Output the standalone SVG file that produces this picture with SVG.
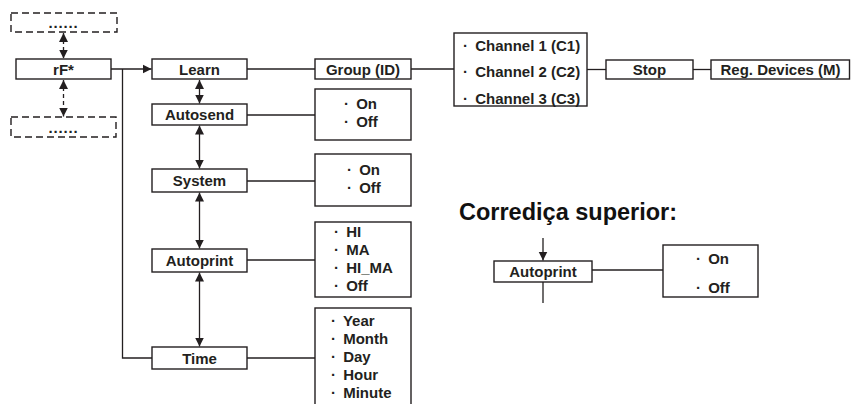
<svg xmlns="http://www.w3.org/2000/svg" width="851" height="404" viewBox="0 0 851 404">
<defs>
<style>
.box{fill:#fff;stroke:#231f20;stroke-width:1.4}
.dbox{fill:none;stroke:#231f20;stroke-width:1.4;stroke-dasharray:7 4}
.ln{fill:none;stroke:#231f20;stroke-width:1.3}
.dl{fill:none;stroke:#231f20;stroke-width:1.3;stroke-dasharray:4 3}
text{font-family:"Liberation Sans",Arial,Helvetica,sans-serif;font-weight:bold;font-size:15px;fill:#231f20}
.c{text-anchor:middle}
.title{font-size:23.5px;fill:#111}
</style>
<marker id="ah" viewBox="0 0 10 10" refX="10" refY="5" markerUnits="userSpaceOnUse" markerWidth="9" markerHeight="10" orient="auto-start-reverse">
<path d="M0,0 L10,5 L0,10 z" fill="#231f20"/>
</marker>
</defs>
<rect width="851" height="404" fill="#fff"/>

<g id="connectors">
<line class="dl" x1="63.5" y1="33" x2="63.5" y2="58.5" marker-start="url(#ah)" marker-end="url(#ah)"/>
<line class="dl" x1="63.5" y1="80" x2="63.5" y2="116.5" marker-start="url(#ah)" marker-end="url(#ah)"/>
<line class="ln" x1="111" y1="69" x2="151.5" y2="69" marker-end="url(#ah)"/>
<polyline class="ln" points="122.5,69 122.5,358 152,358"/>
<line class="ln" x1="247" y1="69" x2="315" y2="69"/>
<line class="ln" x1="411" y1="69" x2="454" y2="69"/>
<line class="ln" x1="587" y1="69.5" x2="606" y2="69.5"/>
<line class="ln" x1="693" y1="69.5" x2="711" y2="69.5"/>
<line class="ln" x1="199.5" y1="80" x2="199.5" y2="103.5" marker-start="url(#ah)" marker-end="url(#ah)"/>
<line class="ln" x1="247" y1="115" x2="315" y2="115"/>
<line class="ln" x1="199.5" y1="125.5" x2="199.5" y2="168.5" marker-start="url(#ah)" marker-end="url(#ah)"/>
<line class="ln" x1="247" y1="181" x2="315" y2="181"/>
<line class="ln" x1="199.5" y1="192.5" x2="199.5" y2="248.5" marker-start="url(#ah)" marker-end="url(#ah)"/>
<line class="ln" x1="247" y1="260" x2="315" y2="260"/>
<line class="ln" x1="199.5" y1="272.5" x2="199.5" y2="346.5" marker-start="url(#ah)" marker-end="url(#ah)"/>
<line class="ln" x1="247" y1="358" x2="315" y2="358"/>
<line class="ln" x1="543" y1="238" x2="543" y2="260.5" marker-end="url(#ah)"/>
<line class="ln" x1="543" y1="282" x2="543" y2="303"/>
<line class="ln" x1="592" y1="270" x2="663" y2="270"/>
</g>

<g id="top-dashed">
<rect class="dbox" x="11" y="13" width="106" height="19"/>
<text class="c" x="63.5" y="27.5" letter-spacing="0.8">......</text>
</g>
<g id="rF">
<rect class="box" x="16" y="59" width="95" height="20"/>
<text class="c" x="63.5" y="74.5">rF*</text>
</g>
<g id="bottom-dashed">
<rect class="dbox" x="11" y="117" width="105" height="20"/>
<text class="c" x="63.5" y="132.5" letter-spacing="0.8">......</text>
</g>

<g id="learn">
<rect class="box" x="152" y="59" width="95" height="20"/>
<text class="c" x="199.5" y="74.5">Learn</text>
</g>
<g id="group-id">
<rect class="box" x="315" y="59" width="96" height="20"/>
<text class="c" x="363" y="74.5">Group (ID)</text>
</g>
<g id="channels">
<rect class="box" x="454" y="33" width="133" height="73"/>
<text x="463" y="50.5">·<tspan dx="3"> Channel 1 (C1)</tspan></text>
<text x="463" y="76.5">·<tspan dx="3"> Channel 2 (C2)</tspan></text>
<text x="463" y="104">·<tspan dx="3"> Channel 3 (C3)</tspan></text>
</g>
<g id="stop">
<rect class="box" x="606" y="60" width="87" height="19"/>
<text class="c" x="649.5" y="75">Stop</text>
</g>
<g id="reg-devices">
<rect class="box" x="711" y="60" width="138.5" height="19"/>
<text class="c" x="780.5" y="75">Reg. Devices (M)</text>
</g>

<g id="autosend">
<rect class="box" x="152" y="104" width="95" height="21"/>
<text class="c" x="199.5" y="120">Autosend</text>
</g>
<g id="autosend-options">
<rect class="box" x="315" y="89" width="96" height="51"/>
<text x="344" y="108.5">·<tspan dx="3"> On</tspan></text>
<text x="344" y="126.5">·<tspan dx="3"> Off</tspan></text>
</g>

<g id="system">
<rect class="box" x="152" y="169" width="95" height="23"/>
<text class="c" x="199.5" y="186">System</text>
</g>
<g id="system-options">
<rect class="box" x="315" y="154" width="96" height="52"/>
<text x="347" y="174.5">·<tspan dx="3"> On</tspan></text>
<text x="347" y="192.5">·<tspan dx="3"> Off</tspan></text>
</g>

<g id="autoprint">
<rect class="box" x="152" y="249" width="95" height="23"/>
<text class="c" x="199.5" y="266">Autoprint</text>
</g>
<g id="autoprint-options">
<rect class="box" x="315" y="222" width="96" height="75"/>
<text x="334" y="236.5">·<tspan dx="3"> HI</tspan></text>
<text x="334" y="254.5">·<tspan dx="3"> MA</tspan></text>
<text x="334" y="272.5">·<tspan dx="3"> HI_MA</tspan></text>
<text x="334" y="290.5">·<tspan dx="3"> Off</tspan></text>
</g>

<g id="time">
<rect class="box" x="152" y="347" width="95" height="22"/>
<text class="c" x="199.5" y="363.5">Time</text>
</g>
<g id="time-options">
<rect class="box" x="315" y="308" width="96" height="110"/>
<text x="331" y="325.5">·<tspan dx="3"> Year</tspan></text>
<text x="331" y="343.5">·<tspan dx="3"> Month</tspan></text>
<text x="331" y="361.5">·<tspan dx="3"> Day</tspan></text>
<text x="331" y="379.5">·<tspan dx="3"> Hour</tspan></text>
<text x="331" y="397.5">·<tspan dx="3"> Minute</tspan></text>
</g>

<text class="title" x="459" y="220">Corrediça superior:</text>
<g id="autoprint-upper">
<rect class="box" x="494" y="261" width="98" height="21"/>
<text class="c" x="543" y="277">Autoprint</text>
</g>
<g id="autoprint-upper-options">
<rect class="box" x="663" y="245" width="95" height="52"/>
<text x="696" y="264">·<tspan dx="3"> On</tspan></text>
<text x="696" y="292.5">·<tspan dx="3"> Off</tspan></text>
</g>
</svg>
